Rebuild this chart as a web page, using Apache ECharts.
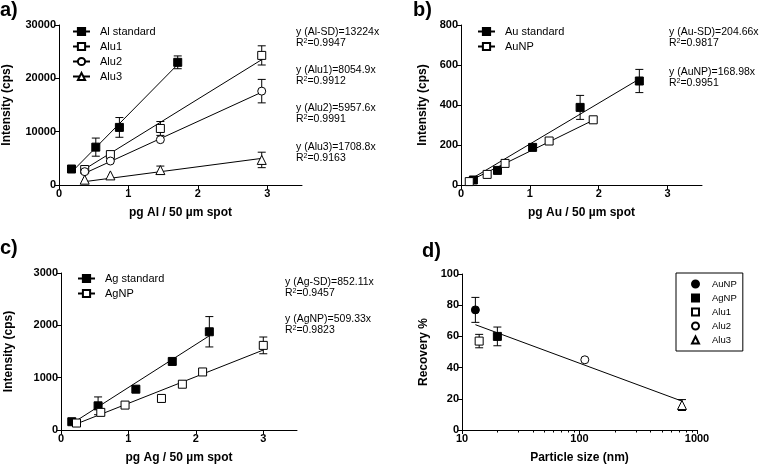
<!DOCTYPE html>
<html><head><meta charset="utf-8">
<script src="https://cdn.jsdelivr.net/npm/echarts@6/dist/echarts.min.js"></script>
<style>html,body{margin:0;padding:0;background:#fff}#c{width:761px;height:465px}</style>
</head><body><div id="c"></div>
<script>
// ---------- Panel a (Al) ----------
const alStdX = [0.18, 0.53, 0.87, 1.71];
const alStdY = [3000, 7100, 10800, 23000];
const alStdErr = [0, 1700, 1850, 1200];
const alu1X = [0.37, 0.74, 1.46, 2.92];
const alu1Y = [2900, 5700, 10600, 24300];
const alu1Err = [400, 0, 1300, 1800];
const alu2X = [0.37, 0.74, 1.46, 2.92];
const alu2Y = [2500, 4500, 8500, 17600];
const alu2Err = [0, 0, 0, 2200];
const alu3X = [0.37, 0.74, 1.46, 2.92];
const alu3Y = [1000, 1800, 2800, 4700];
const alu3Err = [0, 0, 750, 1450];
const alStdFit = [[0.18, 2400], [1.71, 22600]];
const alu1Fit = [[0.37, 2980], [2.92, 23500]];
const alu2Fit = [[0.37, 2200], [2.92, 17400]];
const alu3Fit = [[0.37, 630], [2.92, 4990]];
const aXTicks = [0, 1, 2, 3];
const aAnno = [['y (Al-SD)=13224x', '0.9947'], ['y (Alu1)=8054.9x', '0.9912'], ['y (Alu2)=5957.6x', '0.9991'], ['y (Alu3)=1708.8x', '0.9163']];

// ---------- Panel b (Au) ----------
const auStdX = [0.18, 0.53, 1.04, 1.73, 2.59];
const auStdY = [25, 73, 188, 388, 520];
const auStdErr = [0, 0, 12, 60, 58];
const auNpX = [0.12, 0.38, 0.64, 1.28, 1.92];
const auNpY = [17, 53, 108, 220, 326];
const auNpErr = [0, 0, 0, 0, 12];
const auStdFit = [[0.18, 37], [2.59, 530]];
const auNpFit = [[0.12, 20], [1.92, 324]];
const bAnno = [['y (Au-SD)=204.66x', '0.9817'], ['y (AuNP)=168.98x', '0.9951']];

// ---------- Panel c (Ag) ----------
const agStdX = [0.16, 0.55, 1.11, 1.65, 2.2];
const agStdY = [158, 462, 780, 1310, 1877];
const agStdErr = [0, 170, 0, 50, 290];
const agNpX = [0.23, 0.59, 0.95, 1.49, 1.8, 2.1, 3.0];
const agNpY = [133, 337, 476, 603, 875, 1109, 1617];
const agNpErr = [0, 60, 0, 0, 0, 0, 160];
const agStdFit = [[0.17, 130], [2.2, 1800]];
const agNpFit = [[0.23, 117], [3.0, 1528]];
const cAnno = [['y (Ag-SD)=852.11x', '0.9457'], ['y (AgNP)=509.33x', '0.9823']];

// ---------- Panel d (Recovery) ----------
const dNames = ['AuNP', 'AgNP', 'Alu1', 'Alu2', 'Alu3'];
const dSize = [13, 20, 14, 111, 745];
const dRec = [77, 60, 57, 45, 16];
const dErr = [8, 6, 4.3, 0, 3.5];
const dFit = [[13, 67.5], [745, 18.5]];
const dMinor = [20, 30, 40, 50, 60, 70, 80, 90, 200, 300, 400, 500, 600, 700, 800, 900];

const FONT = '"Liberation Sans", Arial, sans-serif';
const BLACK = '#000';

function zip(xs, ys, es) { return xs.map((x, i) => es ? [x, ys[i], es[i]] : [x, ys[i]]); }

function errRender(params, api) {
  const x = api.value(0), y = api.value(1), e = api.value(2);
  if (!e) return null;
  const t = api.coord([x, y + e]), b = api.coord([x, y - e]);
  const cw = 4;
  const st = { stroke: BLACK, lineWidth: 1 };
  return { type: 'group', children: [
    { type: 'line', shape: { x1: t[0], y1: t[1], x2: b[0], y2: b[1] }, style: st },
    { type: 'line', shape: { x1: t[0] - cw, y1: t[1], x2: t[0] + cw, y2: t[1] }, style: st },
    { type: 'line', shape: { x1: b[0] - cw, y1: b[1], x2: b[0] + cw, y2: b[1] }, style: st }
  ]};
}
// minor log ticks placed through the log axis scale
function minorTickRender(params, api) {
  const p = api.coord([api.value(0), api.value(1)]);
  const x = Math.round(p[0]) + 0.5;
  return { type: 'line', shape: { x1: x, y1: p[1], x2: x, y2: p[1] + 2.5 },
    style: { stroke: BLACK, lineWidth: 1 } };
}

const filled = { color: BLACK, borderColor: BLACK, borderWidth: 1, opacity: 1 };
const open = { color: '#fff', borderColor: BLACK, borderWidth: 1, opacity: 1 };

function fitSeries(name, idx, data, symbol, style) {
  return { type: 'line', name: name, xAxisIndex: idx, yAxisIndex: idx, data: data,
    showSymbol: false, symbol: symbol, symbolSize: 8, itemStyle: style,
    lineStyle: { color: BLACK, width: 1 }, z: 2, silent: true, animation: false };
}
function ptSeries(idx, data, symbol, style, name, size) {
  const s = { type: 'scatter', xAxisIndex: idx, yAxisIndex: idx, data: data,
    symbol: symbol, symbolSize: size || (symbol === 'triangle' ? 9 : 8), itemStyle: style,
    z: 4, silent: true, animation: false };
  if (name) s.name = name;
  return s;
}
function errSeries(idx, data) {
  return { type: 'custom', xAxisIndex: idx, yAxisIndex: idx, data: data, renderItem: errRender,
    encode: { x: 0, y: 1 }, z: 1, silent: true, animation: false };
}

const axisLineS = { show: true, lineStyle: { color: BLACK, width: 1 } };
const labelS = { color: BLACK, fontSize: 11, fontWeight: 'bold', fontFamily: FONT, margin: 3,
  formatter: v => String(v) };
const nameS = { color: BLACK, fontSize: 12, fontWeight: 'bold', fontFamily: FONT };

function linX(idx, name) {
  return { type: 'value', gridIndex: idx, min: 0, max: 3.5, interval: 1,
    axisLine: axisLineS, splitLine: { show: false },
    axisTick: { show: true, length: 4, lineStyle: { color: BLACK }, customValues: aXTicks },
    axisLabel: Object.assign({}, labelS, { customValues: aXTicks }),
    name: name, nameLocation: 'middle', nameGap: 22, nameTextStyle: nameS };
}
function linY(idx, max, interval, name, gap) {
  return { type: 'value', gridIndex: idx, min: 0, max: max, interval: interval,
    axisLine: axisLineS, splitLine: { show: false },
    axisTick: { show: true, length: 4, lineStyle: { color: BLACK } },
    axisLabel: labelS,
    name: name, nameLocation: 'middle', nameRotate: 90, nameGap: gap, nameTextStyle: nameS };
}

function annoTexts(x, ys, anno) {
  const out = [];
  anno.forEach((a, i) => {
    out.push({ type: 'text', left: x, top: ys[i], silent: true,
      style: { text: a[0], fill: BLACK, font: '10.5px ' + FONT } });
    out.push({ type: 'text', left: x, top: ys[i] + 11, silent: true,
      style: { text: 'R{s|2}=' + a[1], fill: BLACK, font: '10.5px ' + FONT,
        rich: { s: { fontSize: 7, fontFamily: FONT, verticalAlign: 'top', lineHeight: 8 } } } });
  });
  return out;
}
function panelLabel(t, x, y) {
  return { type: 'text', left: x, top: y, silent: true,
    style: { text: t, fill: BLACK, font: 'bold 20px ' + FONT } };
}

const legendBase = { orient: 'vertical', padding: 0, itemWidth: 17, itemHeight: 9, itemGap: 2,
  selectedMode: false,
  textStyle: { color: BLACK, fontSize: 11, lineHeight: 13, fontFamily: FONT, padding: [0, 0, 0, 5] } };

const option = {
  backgroundColor: '#fff',
  animation: false,
  grid: [
    { left: 59, top: 25, width: 243, height: 160 },
    { left: 461, top: 25, width: 241, height: 160 },
    { left: 61, top: 273, width: 236, height: 158 },
    { left: 462, top: 274, width: 235, height: 157 }
  ],
  xAxis: [
    linX(0, 'pg Al / 50 µm spot'),
    linX(1, 'pg Au / 50 µm spot'),
    linX(2, 'pg Ag / 50 µm spot'),
    { type: 'log', gridIndex: 3, min: 10, max: 1000, logBase: 10, position: 'bottom',
      axisLine: axisLineS, splitLine: { show: false },
      axisTick: { show: true, length: 4, lineStyle: { color: BLACK } },
      axisLabel: labelS, minorTick: { show: false },
      name: 'Particle size (nm)', nameLocation: 'middle', nameGap: 22, nameTextStyle: nameS }
  ],
  yAxis: [
    linY(0, 30000, 10000, 'Intensity (cps)', 46),
    linY(1, 800, 200, 'Intensity (cps)', 32),
    linY(2, 3000, 1000, 'Intensity (cps)', 46),
    linY(3, 100, 20, 'Recovery %', 32)
  ],
  legend: [
    Object.assign({}, legendBase, { left: 72, top: 25, data: ['Al standard', 'Alu1', 'Alu2', 'Alu3'] }),
    Object.assign({}, legendBase, { left: 477, top: 25, data: ['Au standard', 'AuNP'] }),
    Object.assign({}, legendBase, { left: 77, top: 272, data: ['Ag standard', 'AgNP'] }),
    { orient: 'vertical', left: 676, top: 273, selectedMode: false,
      itemWidth: 7, itemHeight: 7, itemGap: 2, padding: [5, 6, 5, 15],
      borderColor: BLACK, borderWidth: 1,
      textStyle: { color: BLACK, fontSize: 9.5, lineHeight: 12, fontFamily: FONT, padding: [0, 0, 0, 8] },
      data: dNames.map(n => n + ' '), formatter: n => n.trim() }
  ],
  series: [
    // panel a
    errSeries(0, zip(alStdX, alStdY, alStdErr)),
    errSeries(0, zip(alu1X, alu1Y, alu1Err)),
    errSeries(0, zip(alu2X, alu2Y, alu2Err)),
    errSeries(0, zip(alu3X, alu3Y, alu3Err)),
    fitSeries('Al standard', 0, alStdFit, 'rect', filled),
    fitSeries('Alu1', 0, alu1Fit, 'rect', open),
    fitSeries('Alu2', 0, alu2Fit, 'circle', open),
    fitSeries('Alu3', 0, alu3Fit, 'triangle', open),
    ptSeries(0, zip(alStdX, alStdY), 'rect', filled),
    ptSeries(0, zip(alu1X, alu1Y), 'rect', open),
    ptSeries(0, zip(alu2X, alu2Y), 'circle', open),
    ptSeries(0, zip(alu3X, alu3Y), 'triangle', open),
    // panel b
    errSeries(1, zip(auStdX, auStdY, auStdErr)),
    errSeries(1, zip(auNpX, auNpY, auNpErr)),
    fitSeries('Au standard', 1, auStdFit, 'rect', filled),
    fitSeries('AuNP', 1, auNpFit, 'rect', open),
    ptSeries(1, zip(auStdX, auStdY), 'rect', filled),
    ptSeries(1, zip(auNpX, auNpY), 'rect', open),
    // panel c
    errSeries(2, zip(agStdX, agStdY, agStdErr)),
    errSeries(2, zip(agNpX, agNpY, agNpErr)),
    fitSeries('Ag standard', 2, agStdFit, 'rect', filled),
    fitSeries('AgNP', 2, agNpFit, 'rect', open),
    ptSeries(2, zip(agStdX, agStdY), 'rect', filled),
    ptSeries(2, zip(agNpX, agNpY), 'rect', open),
    // panel d
    { type: 'custom', xAxisIndex: 3, yAxisIndex: 3, data: dMinor.map(v => [v, 0]),
      renderItem: minorTickRender, encode: { x: 0, y: 1 }, clip: false, z: 5, silent: true },
    errSeries(3, zip(dSize, dRec, dErr)),
    { type: 'line', xAxisIndex: 3, yAxisIndex: 3, data: dFit, symbol: 'none',
      lineStyle: { color: BLACK, width: 1 }, z: 2, silent: true },
    ptSeries(3, [[dSize[0], dRec[0]]], 'circle', filled, dNames[0] + ' '),
    ptSeries(3, [[dSize[1], dRec[1]]], 'rect', filled, dNames[1] + ' '),
    ptSeries(3, [[dSize[2], dRec[2]]], 'rect', open, dNames[2] + ' '),
    ptSeries(3, [[dSize[3], dRec[3]]], 'circle', open, dNames[3] + ' '),
    ptSeries(3, [[dSize[4], dRec[4]]], 'triangle', open, dNames[4] + ' ')
  ],
  graphic: [
    panelLabel('a)', 0, 0), panelLabel('b)', 413, 0), panelLabel('c)', 0, 238), panelLabel('d)', 422, 241)
  ].concat(annoTexts(296, [27, 65, 103, 142], aAnno))
   .concat(annoTexts(669, [27, 67], bAnno))
   .concat(annoTexts(285, [277, 314], cAnno))
};

const chart = echarts.init(document.getElementById('c'), null, { renderer: 'canvas' });
chart.setOption(option);
</script>
</body></html>
